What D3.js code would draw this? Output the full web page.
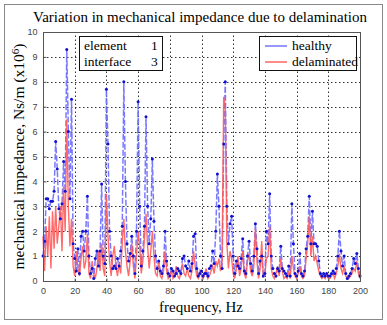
<!DOCTYPE html>
<html lang="en">
<head>
<meta charset="utf-8">
<title>Mechanical impedance</title>
<script src="https://d3js.org/d3.v7.min.js"></script>
<style>
  body { margin: 0; background: #fff; }
  svg text { font-family: "Liberation Serif", "Times New Roman", serif; }
  .tick text { font-family: "Liberation Sans", Arial, sans-serif; font-size: 9px; fill: #444; }
</style>
</head>
<body>
<script>
// sampled every 1 Hz from 0 to 200 Hz, values in Ns/m (x10^6)
var freqStep = 1;
var healthy = [
  1.0, 1.6, 3.3, 3.3, 2.9, 3.2, 3.2, 3.6, 5.6, 4.5,
  2.9, 2.5, 3.1, 4.8, 3.6, 9.3, 6.0, 3.3, 7.3, 1.5,
  0.9, 0.4, 1.3, 0.3, 1.8, 2.0, 1.2, 2.0, 3.4, 1.0,
  0.3, 0.5, 0.1, 0.9, 1.2, 0.6, 1.2, 3.9, 1.0, 0.7,
  7.7, 5.5, 2.0, 1.0, 0.5, 0.6, 0.5, 0.9, 0.6, 1.2,
  2.2, 8.0, 4.0, 1.5, 0.8, 1.1, 1.8, 1.0, 0.3, 2.0,
  7.2, 3.0, 0.6, 1.2, 2.2, 6.6, 3.0, 1.5, 2.5, 4.9,
  2.4, 1.0, 0.5, 0.8, 0.4, 0.3, 0.6, 2.0, 0.8, 0.3,
  0.2, 0.5, 0.4, 0.2, 0.3, 0.5, 0.4, 0.3, 0.9, 1.0,
  0.6, 0.5, 0.8, 0.4, 0.7, 1.8, 1.9, 0.5, 0.2, 0.3,
  0.4, 0.2, 0.3, 0.3, 0.2, 0.5, 0.6, 1.2, 0.7, 2.0,
  4.3, 3.0, 1.0, 0.5, 5.5, 8.0, 3.0, 1.5, 2.3, 2.6,
  1.0, 0.3, 0.8, 0.6, 0.5, 0.9, 1.7, 0.4, 0.3, 1.0,
  1.6, 0.7, 0.4, 1.0, 2.3, 1.3, 0.3, 0.8, 1.0, 0.2,
  0.3, 2.0, 1.5, 3.5, 1.0, 0.5, 0.3, 0.2, 0.5, 0.4,
  1.4, 0.5, 0.4, 0.3, 0.2, 0.6, 0.2, 3.1, 1.5, 0.3,
  0.2, 0.4, 1.1, 0.3, 0.2, 0.4, 1.3, 1.8, 3.4, 1.5,
  2.8, 1.5, 1.5, 1.4, 0.8, 0.3, 0.2, 0.3, 0.2, 0.3,
  0.2, 0.2, 0.3, 0.4, 0.3, 0.5, 1.0, 2.0, 1.2, 0.6,
  1.0, 0.3, 0.1, 0.2, 0.3, 0.5, 0.9, 0.7, 1.1, 0.5,
  0.2
];
var delaminated = [
  1.8, 0.4, 2.2, 1.0, 2.6, 0.5, 2.8, 1.3, 3.0, 1.5,
  2.2, 3.0, 1.2, 3.8, 2.0, 6.5, 3.0, 1.4, 2.5, 0.6,
  0.2, 1.2, 0.5, 0.2, 0.9, 1.4, 0.5, 0.8, 1.9, 0.3,
  0.1, 0.8, 0.3, 0.1, 0.5, 1.2, 0.4, 1.5, 0.5, 0.2,
  3.5, 1.8, 0.8, 0.2, 1.0, 1.4, 0.6, 0.2, 0.7, 0.3,
  1.5, 2.5, 1.2, 0.6, 0.2, 0.8, 1.5, 0.6, 0.1, 1.0,
  2.0, 1.4, 0.3, 0.8, 1.7, 2.7, 1.4, 0.5, 1.2, 2.0,
  1.0, 0.3, 0.2, 0.8, 0.2, 0.1, 0.4, 1.2, 0.4, 0.1,
  0.2, 0.4, 0.1, 0.2, 0.6, 0.2, 0.1, 0.3, 0.7, 0.3,
  0.2, 0.5, 0.2, 0.1, 0.4, 1.2, 0.6, 0.2, 0.1, 0.4,
  0.2, 0.1, 0.3, 0.5, 0.1, 0.2, 0.4, 0.6, 0.3, 0.8,
  0.6, 0.9, 0.4, 0.8, 7.4, 7.0, 1.5, 0.5, 1.2, 0.9,
  0.3, 0.1, 0.5, 1.0, 0.2, 0.5, 1.2, 0.3, 0.1, 0.8,
  1.1, 0.4, 0.2, 0.6, 2.1, 0.8, 0.1, 0.5, 1.6, 0.2,
  0.3, 0.9, 1.0, 2.2, 0.5, 0.2, 0.1, 0.3, 0.6, 0.2,
  0.9, 0.4, 0.1, 0.2, 0.1, 0.4, 0.1, 1.0, 0.5, 0.2,
  0.1, 0.3, 0.6, 0.2, 0.1, 0.2, 0.9, 1.5, 2.6, 1.0,
  1.8, 0.8, 1.0, 0.7, 0.4, 0.2, 0.1, 0.2, 0.1, 0.3,
  0.1, 0.1, 0.2, 0.3, 0.1, 0.3, 0.6, 1.1, 0.5, 0.3,
  0.6, 0.2, 0.1, 0.1, 0.2, 0.3, 0.5, 0.4, 0.8, 0.3,
  0.1
];
var xTicks = [0, 20, 40, 60, 80, 100, 120, 140, 160, 180, 200];
var yTicks = [0, 1, 2, 3, 4, 5, 6, 7, 8, 9, 10];
var infoRows = [["element", "1"], ["interface", "3"]];
var seriesNames = ["healthy", "delaminated"];

var width = 387, height = 325;
var margin = {left: 43, right: 27, top: 32, bottom: 44};

var svg = d3.select("body").append("svg")
  .attr("width", width)
  .attr("height", height);

// figure frame
svg.append("rect")
  .attr("x", 4.5).attr("y", 4.5)
  .attr("width", 378).attr("height", 315)
  .attr("fill", "#fff")
  .attr("stroke", "#888");

var x = d3.scaleLinear().domain([0, 200]).range([margin.left, width - margin.right]);
var y = d3.scaleLinear().domain([0, 10]).range([height - margin.bottom, margin.top]);

var g = svg.append("g");

// dotted grid
g.selectAll("line.gx").data(xTicks.slice(1, -1)).enter().append("line")
  .attr("x1", function(d) { return Math.round(x(d)) + 0.5; })
  .attr("x2", function(d) { return Math.round(x(d)) + 0.5; })
  .attr("y1", y(0)).attr("y2", y(10))
  .attr("stroke", "#333").attr("stroke-width", 1).attr("stroke-dasharray", "1.5,2.5");
g.selectAll("line.gy").data(yTicks.slice(1, -1)).enter().append("line")
  .attr("y1", function(d) { return Math.round(y(d)) + 0.5; })
  .attr("y2", function(d) { return Math.round(y(d)) + 0.5; })
  .attr("x1", x(0)).attr("x2", x(200))
  .attr("stroke", "#333").attr("stroke-width", 1).attr("stroke-dasharray", "1.5,2.5");

var data = healthy.map(function(v, i) {
  return {f: i * freqStep, h: v, d: delaminated[i]};
});

var lineH = d3.line().x(function(d) { return x(d.f); }).y(function(d) { return y(d.h); });
var lineD = d3.line().x(function(d) { return x(d.f); }).y(function(d) { return y(d.d); });

g.append("path").datum(data)
  .attr("d", lineH)
  .attr("fill", "none")
  .attr("stroke", "#6a6aff")
  .attr("stroke-opacity", 0.9)
  .attr("stroke-width", 1.5)
  .attr("stroke-dasharray", "6,2");

g.append("path").datum(data)
  .attr("d", lineD)
  .attr("fill", "none")
  .attr("stroke", "#ff5a5a")
  .attr("stroke-opacity", 0.9)
  .attr("stroke-width", 1.4);

g.selectAll("circle").data(data).enter().append("circle")
  .attr("cx", function(d) { return x(d.f); })
  .attr("cy", function(d) { return y(d.h); })
  .attr("r", 1.5)
  .attr("fill", "#1010d0");

// axes box
svg.append("rect")
  .attr("x", x(0) + 0.5).attr("y", y(10) + 0.5)
  .attr("width", x(200) - x(0)).attr("height", y(0) - y(10))
  .attr("fill", "none").attr("stroke", "#555");

svg.append("g")
  .attr("transform", "translate(0," + (y(0) + 0.5) + ")")
  .call(d3.axisBottom(x).tickValues(xTicks).tickSize(-3).tickPadding(6))
  .call(function(a) { a.select(".domain").remove(); a.selectAll("line").attr("stroke", "#555"); });

svg.append("g")
  .attr("transform", "translate(" + (x(0) + 0.5) + ",0)")
  .call(d3.axisLeft(y).tickValues(yTicks).tickSize(-3).tickPadding(6))
  .call(function(a) { a.select(".domain").remove(); a.selectAll("line").attr("stroke", "#555"); });

// titles
svg.append("text")
  .attr("x", 200).attr("y", 22)
  .attr("text-anchor", "middle")
  .attr("font-size", 15)
  .text("Variation in mechanical impedance due to delamination");

svg.append("text")
  .attr("x", 201).attr("y", 312)
  .attr("text-anchor", "middle")
  .attr("font-size", 15)
  .text("frequency, Hz");

var yl = svg.append("text")
  .attr("transform", "translate(24," + ((y(0) + y(10)) / 2) + ") rotate(-90)")
  .attr("text-anchor", "middle")
  .attr("font-size", 15.5);
yl.append("tspan").text("mechanical impedance, Ns/m (x10");
yl.append("tspan").attr("dy", -5).attr("font-size", 11).text("6");
yl.append("tspan").attr("dy", 5).text(")");

// info box
var info = svg.append("g").attr("transform", "translate(79,36)");
info.append("rect").attr("x", 0.5).attr("y", 0.5).attr("width", 83).attr("height", 34)
  .attr("fill", "#fff").attr("stroke", "#111");
info.selectAll("text.k").data(infoRows).enter().append("text")
  .attr("x", 5).attr("y", function(d, i) { return 14 + i * 16; })
  .attr("font-size", 13.5)
  .text(function(d) { return d[0]; });
info.selectAll("text.v").data(infoRows).enter().append("text")
  .attr("x", 72).attr("y", function(d, i) { return 14 + i * 16; })
  .attr("font-size", 13.5)
  .text(function(d) { return d[1]; });

// legend
var leg = svg.append("g").attr("transform", "translate(259,36)");
leg.append("rect").attr("x", 0.5).attr("y", 0.5).attr("width", 97).attr("height", 34)
  .attr("fill", "#fff").attr("stroke", "#111");
var legColors = ["#6a6aff", "#ff5a5a"];
leg.selectAll("line.l").data(seriesNames).enter().append("line")
  .attr("x1", 6).attr("x2", 28)
  .attr("y1", function(d, i) { return 10 + i * 16; })
  .attr("y2", function(d, i) { return 10 + i * 16; })
  .attr("stroke", function(d, i) { return legColors[i]; })
  .attr("stroke-width", 1.4);
leg.selectAll("text.l").data(seriesNames).enter().append("text")
  .attr("x", 33).attr("y", function(d, i) { return 14 + i * 16; })
  .attr("font-size", 13.5)
  .text(function(d) { return d; });
</script>
</body>
</html>
